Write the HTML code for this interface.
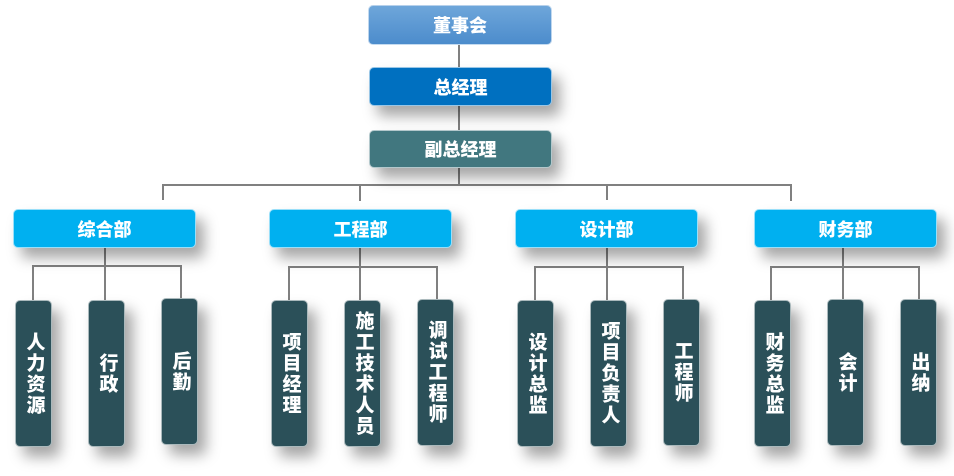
<!DOCTYPE html>
<html><head><meta charset="utf-8"><style>
body{margin:0;width:954px;height:476px;background:#fff;position:relative;overflow:hidden;font-family:"Liberation Sans","Noto Sans CJK SC",sans-serif;}
.b{position:absolute;box-sizing:border-box;border-radius:5px;color:#fff;font-weight:900;display:flex;align-items:center;justify-content:center;box-shadow:8px 10px 14px rgba(0,0,0,0.35);border:1px solid rgba(255,255,255,0.6);}
.h{font-size:18px;}
.l{width:37px;height:147px;background:#2b5059;font-size:19px;line-height:22px;text-align:center;writing-mode:vertical-rl;letter-spacing:2px;}
.d{background:#00b0f0;height:39px;width:183px;top:209px;font-size:18px;}
.ln{position:absolute;background:#808080;}
</style></head><body>
<div class="ln" style="left:458px;top:44px;width:2px;height:24px"></div>
<div class="ln" style="left:458px;top:105px;width:2px;height:26px"></div>
<div class="ln" style="left:458px;top:167px;width:2px;height:19px"></div>
<div class="ln" style="left:162px;top:184px;width:630px;height:2px"></div>
<div class="ln" style="left:162px;top:184px;width:2px;height:16px"></div>
<div class="ln" style="left:359px;top:184px;width:2px;height:17px"></div>
<div class="ln" style="left:606px;top:184px;width:2px;height:16px"></div>
<div class="ln" style="left:790px;top:184px;width:2px;height:17px"></div>

<div class="ln" style="left:104px;top:247px;width:2px;height:53px"></div>
<div class="ln" style="left:32px;top:265px;width:150px;height:2px"></div>
<div class="ln" style="left:32px;top:265px;width:2px;height:35px"></div>
<div class="ln" style="left:180px;top:265px;width:2px;height:33px"></div>

<div class="ln" style="left:359px;top:247px;width:2px;height:53px"></div>
<div class="ln" style="left:288px;top:266px;width:150px;height:2px"></div>
<div class="ln" style="left:288px;top:266px;width:2px;height:34px"></div>
<div class="ln" style="left:436px;top:266px;width:2px;height:33px"></div>

<div class="ln" style="left:606px;top:247px;width:2px;height:53px"></div>
<div class="ln" style="left:534px;top:266px;width:150px;height:2px"></div>
<div class="ln" style="left:534px;top:266px;width:2px;height:34px"></div>
<div class="ln" style="left:682px;top:266px;width:2px;height:33px"></div>

<div class="ln" style="left:842px;top:247px;width:2px;height:53px"></div>
<div class="ln" style="left:770px;top:266px;width:150px;height:2px"></div>
<div class="ln" style="left:770px;top:266px;width:2px;height:34px"></div>
<div class="ln" style="left:918px;top:266px;width:2px;height:33px"></div>

<div class="b h" style="left:368px;top:5px;width:184px;height:40px;background:linear-gradient(#6ea6da,#4c8ccc);box-shadow:none">董事会</div>
<div class="b h" style="left:369px;top:67px;width:183px;height:39px;background:#0070c0">总经理</div>
<div class="b h" style="left:369px;top:130px;width:183px;height:38px;background:#41777f">副总经理</div>

<div class="b d" style="left:13px">综合部</div>
<div class="b d" style="left:269px">工程部</div>
<div class="b d" style="left:515px">设计部</div>
<div class="b d" style="left:754px">财务部</div>

<div class="b l" style="left:15px;top:300px">人力资源</div>
<div class="b l" style="left:88px;top:300px">行政</div>
<div class="b l" style="left:161px;top:298px">后勤</div>
<div class="b l" style="left:271px;top:300px">项目经理</div>
<div class="b l" style="left:344px;top:300px">施工技术人员</div>
<div class="b l" style="left:417px;top:299px">调试工程师</div>
<div class="b l" style="left:517px;top:300px">设计总监</div>
<div class="b l" style="left:590px;top:300px">项目负责人</div>
<div class="b l" style="left:663px;top:299px">工程师</div>
<div class="b l" style="left:754px;top:300px">财务总监</div>
<div class="b l" style="left:827px;top:299px">会计</div>
<div class="b l" style="left:900px;top:299px">出纳</div>
</body></html>
